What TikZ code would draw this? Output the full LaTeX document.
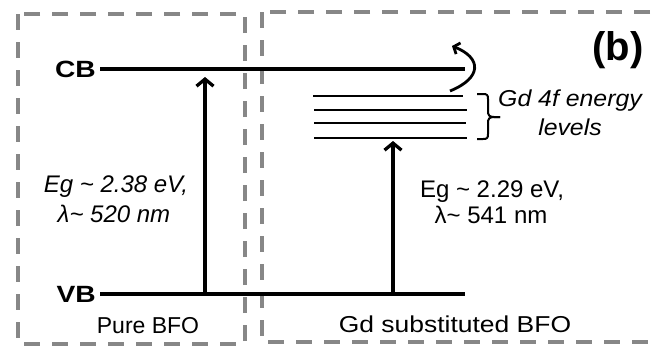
\documentclass[tikz,border=0pt]{standalone}
\usepackage{fontspec}
\setmainfont{Liberation Sans}
\usetikzlibrary{arrows.meta}
\begin{document}
\begin{tikzpicture}[x=1pt,y=-1pt,
  framebox/.style={draw=black!47, line width=3.3pt, dash pattern=on 16pt off 12pt},
  bandline/.style={line width=3.5pt},
  gdline/.style={line width=2.5pt},
  uparrow/.style={line width=3.3pt, -{Straight Barb[length=7pt,width=17pt]}},
  curvearrow/.style={line width=2.8pt, -{Straight Barb[length=5pt,width=12pt]}},
  bracestyle/.style={line width=2pt},
  lbl/.style={inner sep=0pt, font=\fontsize{23}{27}\selectfont},
  eglbl/.style={inner sep=0pt, font=\fontsize{24}{28}\selectfont},
  bandlbl/.style={inner sep=0pt, font=\fontsize{23.5}{27}\selectfont\bfseries},
]
\useasboundingbox (0,0) rectangle (651,346);
\clip (0,0) rectangle (651,346);

% frames
\draw[framebox] (18,14) rectangle (245,344);
\draw[framebox] (262,12) rectangle (700,342);

% band labels
\node[bandlbl, anchor=east] (cb) at (96,69) {\scalebox{1.2}[1]{CB}};
\node[bandlbl, anchor=east] (vb) at (96,294) {\scalebox{1.2}[1]{VB}};
\coordinate (cbend) at (465,69);
\coordinate (vbend) at (465,294);
\draw[bandline] ([xshift=4pt]cb.east) -- (cbend);
\draw[bandline] ([xshift=4pt]vb.east) -- (vbend);

% excitation arrows
\coordinate (a1s) at (205,294);
\coordinate (a1e) at (205,77);
\coordinate (a2s) at (393,294);
\coordinate (a2e) at (393,141);
\draw[uparrow] (a1s) -- (a1e);
\draw[uparrow] (a2s) -- (a2e);

% Gd 4f levels
\coordinate (g1l) at (313,96);  \coordinate (g1r) at (463,96);
\coordinate (g2l) at (314,110); \coordinate (g2r) at (467,110);
\coordinate (g3l) at (314,123); \coordinate (g3r) at (466,123);
\coordinate (g4l) at (314,138); \coordinate (g4r) at (467,138);
\draw[gdline] (g1l) -- (g1r);
\draw[gdline] (g2l) -- (g2r);
\draw[gdline] (g3l) -- (g3r);
\draw[gdline] (g4l) -- (g4r);

% curved arrow
\coordinate (cs) at (450,91);
\coordinate (ce) at (452,46);
\draw[curvearrow] (cs) .. controls (482,78) and (482,58) .. (ce);

% brace
\coordinate (bt) at (477,94);
\coordinate (bm) at (500,117);
\coordinate (bb) at (477,139);
\draw[bracestyle] (bt) -- (483,94) .. controls (487,94) and (488,95) .. (488,99) -- (488,111)
  .. controls (488,115) and (489,117) .. (494,117) -- (bm);
\draw[bracestyle] (bm) -- (494,117) .. controls (489,117) and (488,119) .. (488,123) -- (488,134)
  .. controls (488,138) and (487,139) .. (483,139) -- (bb);

% labels
\node[lbl, anchor=base] (gdA) at (570,106) {\itshape\scalebox{1.08}[1]{Gd 4f energy}};
\node[lbl, anchor=base] (gdB) at (570,135) {\itshape\scalebox{1.08}[1]{levels}};

\node[eglbl, anchor=base] (egL1) at (116,192) {\itshape Eg \textasciitilde{} 2.38 eV,};
\node[eglbl, anchor=base] (egL2) at (114,222) {\itshape λ\textasciitilde{} 520 nm};
\node[eglbl, anchor=base] (egR1) at (492,197) {Eg \textasciitilde{} 2.29 eV,};
\node[eglbl, anchor=base] (egR2) at (491,223) {λ\textasciitilde{} 541 nm};

\node[inner sep=0pt, anchor=base, font=\fontsize{40}{44}\selectfont\bfseries] (blabel) at (618,60) {(b)};

\node[lbl, anchor=base] (pure) at (148,333) {Pure BFO};
\node[lbl, anchor=base] (gdsub) at (455,332) {\scalebox{1.15}[1]{Gd substituted BFO}};
\end{tikzpicture}
\end{document}
